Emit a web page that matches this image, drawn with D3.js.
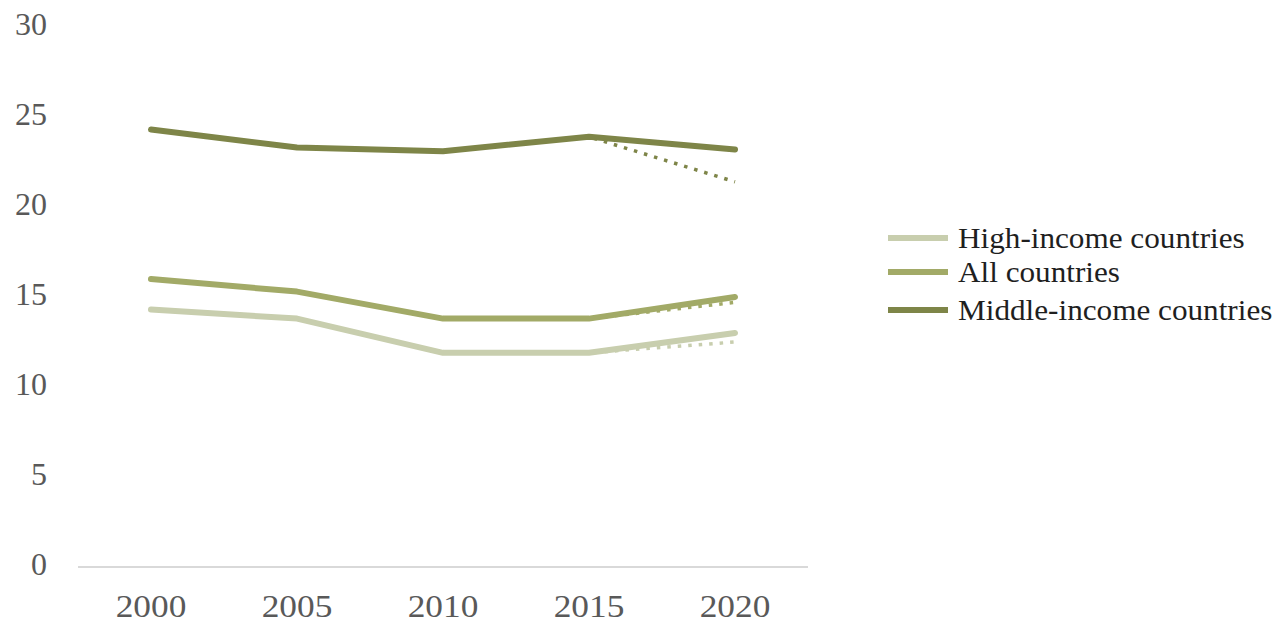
<!DOCTYPE html>
<html><head><meta charset="utf-8">
<script src="https://cdn.jsdelivr.net/npm/d3@7"></script>
<style>body{margin:0;background:#fff}svg{display:block}</style>
</head><body>
<svg id="c" width="1276" height="623"></svg>
<script>
const years = ["2000","2005","2010","2015","2020"];
const yTicks = [0,5,10,15,20,25,30];
const seriesNames = ["High-income countries","All countries","Middle-income countries"];
const highIncome = [14.3, 13.8, 11.9, 11.9, 13.0];
const allCountries = [16.0, 15.3, 13.8, 13.8, 15.0];
const middleIncome = [24.3, 23.3, 23.1, 23.9, 23.2];
// dotted projections from 2015 to 2020
const dotYears = ["2015","2020"];
const highDot = [11.9, 12.5];
const allDot = [13.8, 14.7];
const middleDot = [23.9, 21.4];
const colors = ["#c8ceae","#a2aa67","#7e8548"];

const svg = d3.select("#c");
const x = d3.scalePoint().domain(years).range([78,808]).padding(0.5);
const y = d3.scaleLinear().domain([0,30]).range([567,27]);
const font = "'Liberation Serif','Times New Roman',serif";

// x axis line
svg.append("line").attr("x1",78).attr("x2",808).attr("y1",y(0)).attr("y2",y(0))
  .attr("stroke","#d9d9d9").attr("stroke-width",2);

// y labels
svg.append("g").selectAll("text").data(yTicks).join("text")
  .attr("x",47).attr("y",d=>y(d)-3).attr("dy","0.35em").attr("text-anchor","end")
  .attr("font-family",font).attr("font-size",32).attr("fill","#595959").text(d=>d);

// x labels
svg.append("g").selectAll("text").data(years).join("text")
  .attr("transform",d=>`translate(${x(d)},617) scale(1.14,1)`)
  .attr("text-anchor","middle")
  .attr("font-family",font).attr("font-size",31).attr("fill","#595959").text(d=>d);

const line = d3.line().x(d=>x(d[0])).y(d=>y(d[1]));
const data = [highIncome, allCountries, middleIncome];
const dots = [highDot, allDot, middleDot];

data.forEach((vals,i)=>{
  svg.append("path").datum(dotYears.map((yr,j)=>[yr,dots[i][j]])).attr("d",line)
    .attr("fill","none").attr("stroke",colors[i]).attr("stroke-width",3.5)
    .attr("stroke-dasharray","3.5 7").attr("stroke-dashoffset",-5);
});
data.forEach((vals,i)=>{
  svg.append("path").datum(years.map((yr,j)=>[yr,vals[j]])).attr("d",line)
    .attr("fill","none").attr("stroke",colors[i]).attr("stroke-width",6)
    .attr("stroke-linecap","round").attr("stroke-linejoin","round");
});

// legend
const lg = svg.append("g");
const ly = [238, 272, 310];
seriesNames.forEach((n,i)=>{
  lg.append("line").attr("x1",888).attr("x2",948).attr("y1",ly[i]).attr("y2",ly[i])
    .attr("stroke",colors[i]).attr("stroke-width",6);
  lg.append("text").attr("transform",`translate(958,${ly[i]+10}) scale(1.04,1)`)
    .attr("font-family",font).attr("font-size",30).attr("fill","#1f1f1f").text(n);
});
</script>
</body></html>
